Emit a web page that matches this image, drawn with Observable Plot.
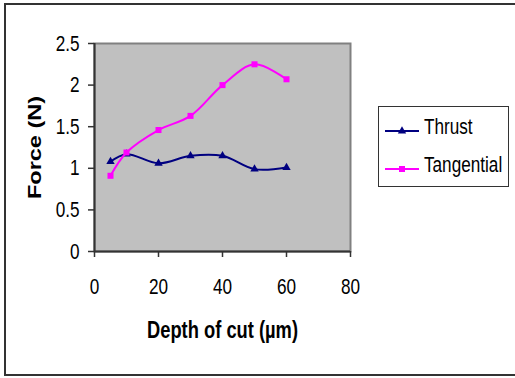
<!DOCTYPE html>
<html><head><meta charset="utf-8">
<script src="https://cdn.jsdelivr.net/npm/d3@7"></script>
<script src="https://cdn.jsdelivr.net/npm/@observablehq/plot@0.6"></script>
<style>
html,body{margin:0;padding:0;background:#fff;overflow:hidden;width:515px;height:378px;}
#wrap{position:relative;width:515px;height:378px;font-family:'Liberation Sans',Arial,sans-serif;}
#border{position:absolute;left:4px;top:3px;width:530px;height:369px;border:2px solid #333;border-right:none;}
#chart{position:absolute;left:0;top:0;}
#legend{position:absolute;left:378px;top:106px;width:131px;height:81px;box-sizing:border-box;border:1.5px solid #333;background:#fff;}
#legend svg{position:absolute;left:-1.5px;top:-1.5px;overflow:visible;}
</style></head><body>
<div id="wrap"><div id="border"></div><div id="chart"></div><div id="legend"></div></div>
<script>
// ---- data ----
const depth = [5, 10, 20, 30, 40, 50, 60];
const thrust = [1.08, 1.17, 1.06, 1.15, 1.15, 0.99, 1.01];
const tangential = [0.91, 1.19, 1.46, 1.63, 2.0, 2.25, 2.07];
const xTicks = [0, 20, 40, 60, 80];
const yTicks = [0, 0.5, 1, 1.5, 2, 2.5];
const seriesNames = ["Thrust", "Tangential"];
const seriesColors = ["#000080", "#ff00ff"];
const seriesSymbols = ["triangle", "square"];
const xTitle = "Depth of cut (µm)";
const yTitle = "Force (N)";

const SQ = 0.78; // horizontal squeeze of the original picture's lettering
const FONT = "'Liberation Sans', Arial, sans-serif";

const rows = (vals, name) => depth.map((d, i) => ({depth: d, force: vals[i], series: name}));
const series = [rows(thrust, seriesNames[0]), rows(tangential, seriesNames[1])];

const marks = [
  Plot.frame({fill: "#c0c0c0", stroke: "#808080", strokeWidth: 2}),
  Plot.ruleX([0], {stroke: "#333", strokeWidth: 2}),
  Plot.ruleY([0], {stroke: "#333", strokeWidth: 2}),
  Plot.axisX({ticks: xTicks, tickSize: 6, tickPadding: 21, tickFormat: d => String(d),
    stroke: "#333", strokeWidth: 1.5, fill: "#000",
    label: xTitle, labelAnchor: "center", labelOffset: 86, labelArrow: "none"}),
  Plot.axisY({ticks: yTicks, tickSize: 6, tickPadding: 9, tickFormat: d => String(d),
    stroke: "#333", strokeWidth: 1.5, fill: "#000",
    label: yTitle, labelAnchor: "center", labelOffset: 67, labelArrow: "none"})
];
series.forEach((s, i) => {
  marks.push(Plot.line(s, {x: "depth", y: "force", stroke: seriesColors[i], strokeWidth: 2, curve: "catmull-rom"}));
  marks.push(Plot.dot(s, {x: "depth", y: "force", symbol: seriesSymbols[i], r: i === 0 ? 3.1 : 3.4, fill: seriesColors[i], stroke: "none"}));
});

const chart = Plot.plot({
  width: 515, height: 378,
  marginLeft: 94, marginRight: 165, marginTop: 43, marginBottom: 127,
  style: {fontFamily: FONT, fontSize: "22px", background: "transparent", color: "#000", overflow: "visible"},
  x: {domain: [0, 80]},
  y: {domain: [0, 2.5]},
  marks
});
document.getElementById("chart").appendChild(chart);

// axis titles: bold
const xl = chart.querySelector('[aria-label="x-axis label"]');
const yl = chart.querySelector('[aria-label="y-axis label"]');
[xl, yl].forEach(g => { if (g) { g.setAttribute("font-weight", "bold"); g.setAttribute("font-size", "23.5px"); g.querySelectorAll("text").forEach(t => { t.setAttribute("font-weight", "bold"); t.setAttribute("font-size", "23.5px"); }); } });

// squeeze lettering horizontally (about each text's own anchor point)
function squeeze(root, skip) {
  root.querySelectorAll("text").forEach(t => {
    if (skip && skip.contains(t)) return;
    const tr = t.getAttribute("transform") || "";
    t.setAttribute("transform", tr + " scale(" + SQ + ",1)");
  });
}
squeeze(chart, yl);
if (yl) {
  yl.querySelectorAll("text").forEach(t => {
    const tr = t.getAttribute("transform") || "";
    t.setAttribute("transform", tr + " scale(1," + SQ + ")");
  });
}

// ---- legend ----
const lg = d3.select("#legend").append("svg").attr("width", 131).attr("height", 81);
seriesNames.forEach((name, i) => {
  const y = 25 + i * 38;
  lg.append("line").attr("x1", 7).attr("x2", 41).attr("y1", y).attr("y2", y)
    .attr("stroke", seriesColors[i]).attr("stroke-width", 2);
  const sym = i === 0 ? d3.symbolTriangle : d3.symbolSquare;
  lg.append("path").attr("d", d3.symbol(sym, i === 0 ? Math.PI * 9.6 : 36)())
    .attr("transform", `translate(24,${y})`).attr("fill", seriesColors[i]);
  lg.append("text").attr("transform", `translate(46,${y + 3})`).attr("font-family", FONT).attr("font-size", 22)
    .attr("fill", "#000").text(name);
});
squeeze(lg.node());
</script>
</body></html>
